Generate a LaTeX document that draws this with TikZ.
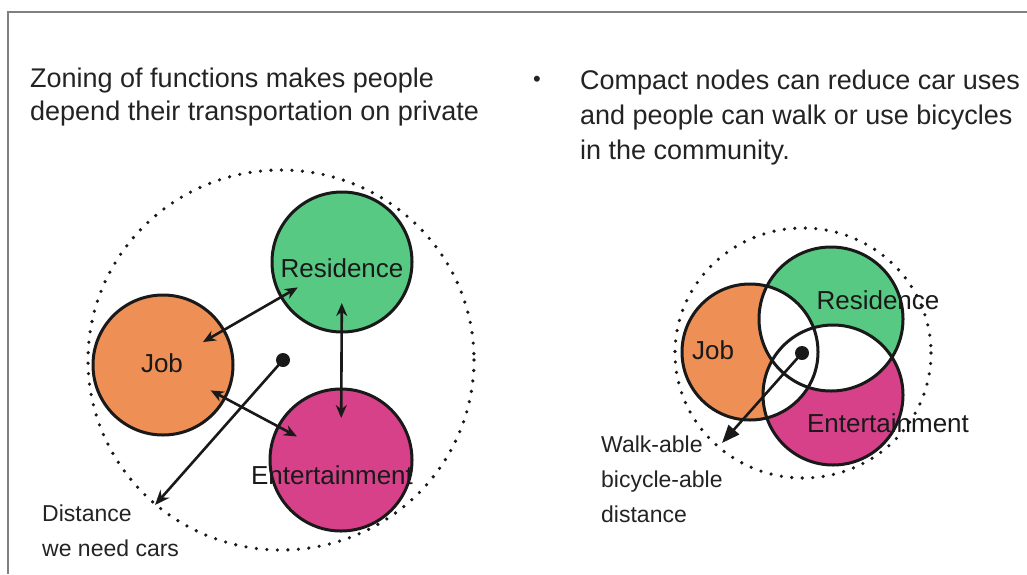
\documentclass[tikz,border=0pt]{standalone}
\usepackage{fontspec}
\setmainfont{Liberation Sans}
\usetikzlibrary{arrows.meta}
\definecolor{jobcol}{RGB}{238,143,85}
\definecolor{rescol}{RGB}{88,201,131}
\definecolor{entcol}{RGB}{214,65,138}
\definecolor{framecol}{RGB}{128,128,128}
\definecolor{inkcol}{RGB}{25,25,25}
\definecolor{textcol}{RGB}{35,35,35}

\begin{document}
\begin{tikzpicture}[x=1pt, y=-1pt,
    every node/.style={inner sep=0pt, text=textcol},
    zone/.style={circle, draw=inkcol, line width=3pt, minimum size=#1},
    tag/.style={font=\fontsize{26}{30}\selectfont, text=inkcol},
    note/.style={font=\fontsize{23}{35}\selectfont, align=left, anchor=north west},
    headline/.style={font=\fontsize{27}{#1}\selectfont, align=left, anchor=north west},
    bound/.style={draw=inkcol, line width=3.6pt, dash pattern=on 0pt off 10.5pt, line cap=round},
    link/.style={draw=inkcol, line width=2.6pt, {Stealth[length=13pt,width=11pt]}-{Stealth[length=13pt,width=11pt]}},
    reach/.style={draw=inkcol, line width=2.6pt, -{Stealth[length=15pt,width=12pt]}}]
    \useasboundingbox (0,0) rectangle (1027,574);
    \draw[framecol, line width=2pt] (1027,12) -- (8,12) -- (8,574);

    % left: zoned functions
    \node[headline=33] (zoningTxt) at (30,68)
        {Zoning of functions makes people\\depend their transportation on private};
    \draw[bound] (281,360) ellipse [x radius=193, y radius=190];
    \node[zone=140pt, fill=jobcol] (jobL) at (163,365) {};
    \node[zone=140pt, fill=rescol] (resL) at (342,262) {};
    \node[zone=142pt, fill=entcol] (entL) at (341,460) {};
    \node[tag] (jobLtxt) at (162,363) {Job};
    \node[tag] (resLtxt) at (342,268) {Residence};
    \node[tag] (entLtxt) at (332,475) {Entertainment};
    \draw[link, shorten <=46pt, shorten >=51pt] (jobL.center) -- (resL.center);
    \draw[link, shorten <=41pt, shorten >=42pt] (resL.center) -- (entL.center);
    \draw[link, shorten <=54pt, shorten >=50pt] (jobL.center) -- (entL.center);
    \node[circle, fill=inkcol, minimum size=14pt] (hubL) at (283,360) {};
    \coordinate (farL) at (155,505);
    \draw[reach] (hubL.center) -- (farL);
    \node[note] (farLtxt) at (42,505) {Distance\\we need cars};

    % right: compact nodes
    \node[font=\fontsize{22}{24}\selectfont] (bulletR) at (537,81) {•};
    \node[headline=35] (compactTxt) at (580,70)
        {Compact nodes can reduce car uses\\and people can walk or use bicycles\\in the community.};
    \draw[bound] (803,353) ellipse [x radius=128, y radius=125];
    \coordinate (jobC) at (750,352);
    \coordinate (resC) at (831,319);
    \coordinate (entC) at (833,395);
    \fill[jobcol] (jobC) circle [radius=68];
    \fill[rescol] (resC) circle [radius=72];
    \fill[entcol] (entC) circle [radius=70];
    \begin{scope}
        \clip (jobC) circle [radius=68];
        \fill[white] (resC) circle [radius=72];
        \fill[white] (entC) circle [radius=70];
    \end{scope}
    \begin{scope}
        \clip (resC) circle [radius=72];
        \fill[white] (entC) circle [radius=70];
    \end{scope}
    \draw[inkcol, line width=3pt] (jobC) circle [radius=68];
    \draw[inkcol, line width=3pt] (resC) circle [radius=72];
    \draw[inkcol, line width=3pt] (entC) circle [radius=70];
    \node[tag] (jobRtxt) at (713,350) {Job};
    \node[tag] (resRtxt) at (878,300) {Residence};
    \node[tag] (entRtxt) at (888,423) {Entertainment};
    \node[circle, fill=inkcol, minimum size=14pt] (hubR) at (802,353) {};
    \coordinate (farR) at (722,443);
    \draw[draw=inkcol, line width=2.6pt, -{Triangle[length=18pt,width=14pt]}] (hubR.center) -- (farR);
    \node[note] (farRtxt) at (601,436) {Walk-able\\bicycle-able\\distance};
\end{tikzpicture}
\end{document}
